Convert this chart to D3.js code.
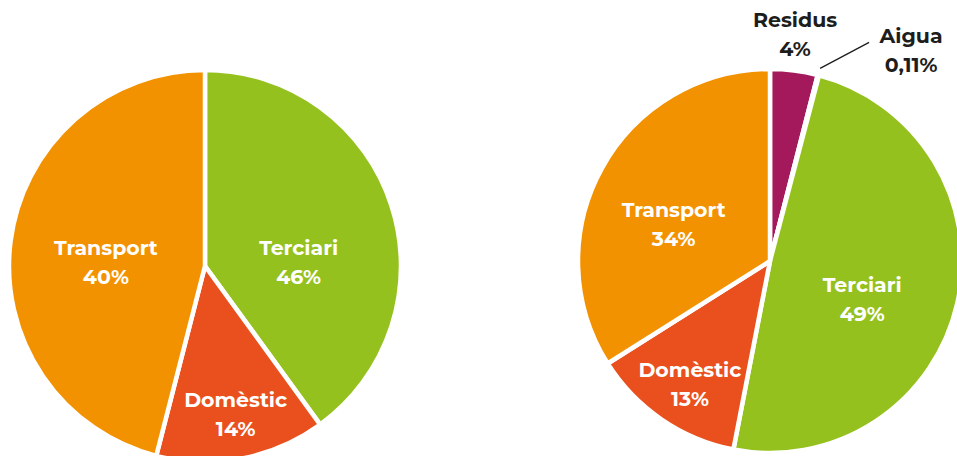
<!DOCTYPE html>
<html>
<head>
<meta charset="utf-8">
<script src="https://cdn.jsdelivr.net/npm/d3@7"></script>
<style>
    html, body { margin: 0; padding: 0; background: #fff; }
    svg text { font-family: Montserrat, "DejaVu Sans", sans-serif; font-weight: 700; }
</style>
</head>
<body>
<svg id="chart" width="957" height="456"></svg>
<script>
// Left pie: slice sizes as they are drawn, and the labels as they are printed
const leftNames = ['Terciari', 'Domèstic', 'Transport'];
const leftShares = [40, 14, 46];
const leftPrinted = ['46%', '14%', '40%'];

// Right pie
const rightNames = ['Residus', 'Aigua', 'Terciari', 'Domèstic', 'Transport'];
const rightShares = [4, 0.11, 49, 13, 34];
const rightPrinted = ['4%', '0,11%', '49%', '13%', '34%'];

const colors = {
    'Terciari': '#95C11F',
    'Domèstic': '#E9501E',
    'Transport': '#F39200',
    'Residus': '#A3195B',
    'Aigua': '#3AA9DE'
};

// label nudges relative to the arc centroid (label radius given per pie)
const leftLayout = {
    cx: 205, cy: 266, r: 196, labelR: 110,
    nudge: { 'Terciari': [-11, 26], 'Domèstic': [10, 36], 'Transport': [10, 6] },
    outside: []
};
const rightLayout = {
    cx: 770, cy: 261, r: 192, labelR: 110,
    nudge: { 'Terciari': [-15, 9], 'Domèstic': [-18, 28], 'Transport': [0, 12] },
    outside: ['Residus', 'Aigua']
};

const fontSize = '20.5px';
const svg = d3.select('#chart');

function drawPie(names, shares, printed, layout) {
    const data = names.map((n, i) => ({ name: n, value: shares[i], label: printed[i] }));

    const pie = d3.pie().sort(null).value(d => d.value);
    const arcs = pie(data);

    const arc = d3.arc().innerRadius(0).outerRadius(layout.r);
    const labelArc = d3.arc().innerRadius(layout.labelR).outerRadius(layout.labelR);

    const g = svg.append('g')
        .attr('transform', `translate(${layout.cx},${layout.cy})`);

    g.selectAll('path')
        .data(arcs)
        .join('path')
        .attr('d', arc)
        .attr('fill', d => colors[d.data.name])
        .attr('stroke', '#fff')
        .attr('stroke-width', 4.5)
        .attr('stroke-linejoin', 'round');

    // inside labels
    const inside = arcs.filter(d => !layout.outside.includes(d.data.name));
    const lab = g.selectAll('g.lab')
        .data(inside)
        .join('g')
        .attr('class', 'lab')
        .attr('transform', d => {
            const [x, y] = labelArc.centroid(d);
            const [dx, dy] = layout.nudge[d.data.name];
            return `translate(${x + dx},${y + dy})`;
        });

    lab.append('text')
        .attr('text-anchor', 'middle')
        .attr('y', -3)
        .attr('fill', '#fff')
        .style('font-size', fontSize)
        .text(d => d.data.name);

    lab.append('text')
        .attr('text-anchor', 'middle')
        .attr('y', 26)
        .attr('fill', '#fff')
        .style('font-size', fontSize)
        .text(d => d.data.label);

    // outside labels (Residus, Aigua)
    arcs.filter(d => layout.outside.includes(d.data.name)).forEach(d => {
        const mid = (d.startAngle + d.endAngle) / 2;
        let x, y;
        if (d.data.name === 'Aigua') {
            // leader line from the rim out to the label
            const x0 = Math.sin(mid) * (layout.r + 7);
            const y0 = -Math.cos(mid) * (layout.r + 7);
            const x1 = x0 + 49, y1 = y0 - 26;
            g.append('line')
                .attr('x1', x0).attr('y1', y0)
                .attr('x2', x1).attr('y2', y1)
                .attr('stroke', '#1d1d1b')
                .attr('stroke-width', 1.3);
            x = x1 + 42;
            y = y1 + 4;
        } else {
            x = Math.sin(mid) * (layout.r + 40) - 4;
            y = -Math.cos(mid) * (layout.r + 40) - 1;
        }
        const t = g.append('g').attr('transform', `translate(${x},${y})`);
        t.append('text')
            .attr('text-anchor', 'middle')
            .attr('y', -3)
            .attr('fill', '#1d1d1b')
            .style('font-size', fontSize)
            .text(d.data.name);
        t.append('text')
            .attr('text-anchor', 'middle')
            .attr('y', 26)
            .attr('fill', '#1d1d1b')
            .style('font-size', fontSize)
            .text(d.data.label);
    });
}

drawPie(leftNames, leftShares, leftPrinted, leftLayout);
drawPie(rightNames, rightShares, rightPrinted, rightLayout);
</script>
</body>
</html>
